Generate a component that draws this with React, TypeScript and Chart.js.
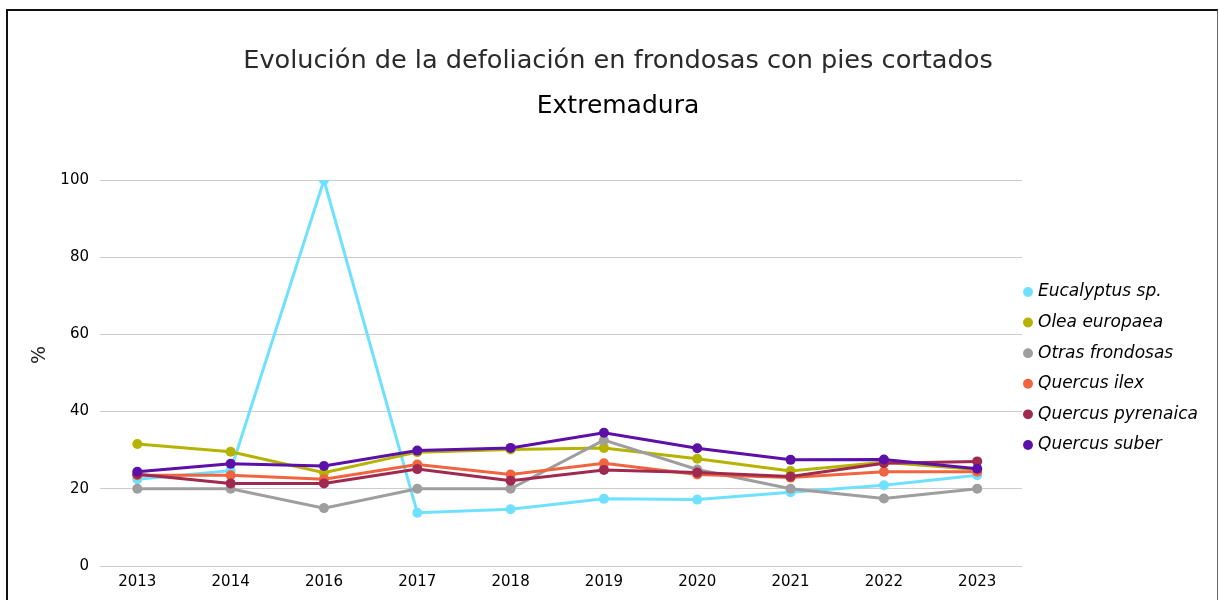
import React, { useEffect, useRef } from 'react';
import { Chart, registerables } from 'chart.js';

Chart.register(...registerables);

const years = ['2013', '2014', '2016', '2017', '2018', '2019', '2020', '2021', '2022', '2023'];
const eucalyptus = [22.5, 24.7, 100, 13.8, 14.7, 17.4, 17.2, 19.1, 20.9, 23.5];
const olea = [31.6, 29.6, 24.2, 29.5, 30.2, 30.6, 27.8, 24.6, 26.9, 25.0];
const otras = [20.0, 20.0, 15.0, 20.0, 20.0, 32.6, 25.0, 20.0, 17.5, 20.0];
const ilex = [23.5, 23.5, 22.5, 26.3, 23.7, 26.6, 23.7, 22.9, 24.4, 24.4];
const pyrenaica = [23.8, 21.4, 21.4, 25.1, 22.1, 24.9, 24.2, 23.2, 26.6, 27.1];
const suber = [24.4, 26.5, 25.9, 29.9, 30.6, 34.5, 30.5, 27.5, 27.6, 25.2];

const seriesNames = ['Eucalyptus sp.', 'Olea europaea', 'Otras frondosas', 'Quercus ilex', 'Quercus pyrenaica', 'Quercus suber'];
const seriesColors = ['#6fe0ff', '#b5b300', '#9e9e9e', '#f0653f', '#a02a4f', '#5c10a8'];
const yTicks = [0, 20, 40, 60, 80, 100];

const FONT = "'DejaVu Sans', 'Liberation Sans', sans-serif";

export default function App() {
  const ref = useRef<HTMLCanvasElement>(null);

  useEffect(() => {
    document.body.style.margin = '0';
    document.body.style.background = '#ffffff';
    const all = [eucalyptus, olea, otras, ilex, pyrenaica, suber];
    const chart = new Chart(ref.current as HTMLCanvasElement, {
      type: 'line',
      data: {
        datasets: all.map((vals, i) => ({
          label: seriesNames[i],
          data: vals.map((v, j) => ({ x: j, y: v })),
          borderColor: seriesColors[i],
          backgroundColor: seriesColors[i],
          pointBackgroundColor: seriesColors[i],
          pointBorderColor: seriesColors[i],
          pointBorderWidth: 0,
          pointRadius: 5,
          pointStyle: 'circle',
          borderWidth: 3,
          tension: 0,
          order: -i,
        })),
      },
      options: {
        responsive: false,
        animation: false,
        layout: { padding: { top: 0, left: 26, right: 0, bottom: 25 } },
        plugins: {
          tooltip: { enabled: false },
          title: {
            display: true,
            text: 'Evolución de la defoliación en frondosas con pies cortados',
            color: '#2a2a2a',
            font: { family: FONT, size: 25.6, weight: 'normal', lineHeight: 1.2 },
            padding: { top: 34.6, bottom: 0 },
          },
          subtitle: {
            display: true,
            text: 'Extremadura',
            color: '#000000',
            font: { family: FONT, size: 25, weight: 'normal', lineHeight: 1.2 },
            padding: { top: 14.7, bottom: 59 },
          },
          legend: {
            position: 'right',
            align: 'center',
            fullSize: false,
            maxWidth: 180,
            labels: {
              usePointStyle: true,
              pointStyle: 'circle',
              boxWidth: 3,
              boxHeight: 7,
              padding: 4.5,
              color: '#000000',
              font: { family: FONT, size: 17, style: 'italic', lineHeight: 1.535 },
              generateLabels: (c: any) => {
                const base = (Chart as any).defaults.plugins.legend.labels.generateLabels(c);
                return base
                  .sort((a: any, b: any) => a.datasetIndex - b.datasetIndex)
                  .map((it: any) => ({ ...it, text: [it.text], lineWidth: 0 }));
              },
            },
          },
        },
        scales: {
          x: {
            type: 'linear',
            min: -0.4,
            max: 9.48,
            grid: { display: false, drawTicks: false },
            border: { display: false },
            afterBuildTicks: (s: any) => {
              s.ticks = years.map((_, i) => ({ value: i }));
            },
            afterFit: (s: any) => {
              s.height = 40;
            },
            ticks: {
              padding: 7,
              color: '#000000',
              font: { family: FONT, size: 15 },
              maxRotation: 0,
              autoSkip: false,
              callback: (v: any) => years[v as number] ?? '',
            },
          },
          y: {
            min: 0,
            max: 100,
            grid: { color: '#cccccc', lineWidth: 1, drawTicks: false },
            border: { display: false },
            afterBuildTicks: (s: any) => {
              s.ticks = yTicks.map((v) => ({ value: v }));
            },
            afterFit: (s: any) => {
              s.width = 66;
            },
            ticks: {
              padding: 11,
              color: '#000000',
              font: { family: FONT, size: 15 },
            },
            title: {
              display: true,
              text: '      %',
              color: '#222222',
              font: { family: FONT, size: 19, lineHeight: 0.5 },
              padding: { top: 1.25, bottom: 0 },
            },
          },
        },
      },
    } as any);
    return () => chart.destroy();
  }, []);

  return (
    <>
      <canvas
        ref={ref}
        width={1194}
        height={620}
        style={{ position: 'fixed', left: 8, top: 11, width: 1194, height: 620, display: 'block' }}
      />
      <div
        style={{
          position: 'fixed',
          left: 6,
          top: 9,
          width: 1212,
          height: 700,
          boxSizing: 'border-box',
          borderLeft: '2px solid #111111',
          borderTop: '2px solid #111111',
          borderRight: '1px solid #666666',
          pointerEvents: 'none',
        }}
      />
    </>
  );
}
